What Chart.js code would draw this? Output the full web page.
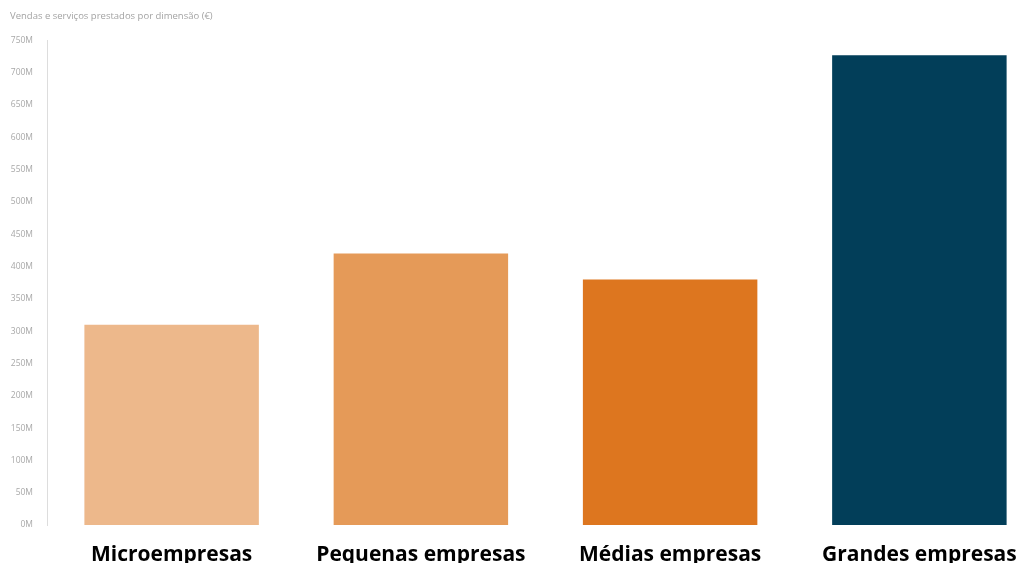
<!DOCTYPE html>
<html>
<head>
<meta charset="utf-8">
<script src="https://cdn.jsdelivr.net/npm/chart.js@4/dist/chart.umd.min.js"></script>
<style>
  html, body { margin: 0; padding: 0; background: #fff; overflow: hidden; }
  #wrap { position: relative; width: 1044px; height: 563px; }
</style>
</head>
<body>
<div id="wrap"><canvas id="c"></canvas></div>
<script>
const chartTitle = 'Vendas e serviços prestados por dimensão (€)';
const categories = ['Microempresas', 'Pequenas empresas', 'Médias empresas', 'Grandes empresas'];
const salesMillions = [310, 420, 380, 727];
const barColors = ['#EDB88B', '#E59A58', '#DD761F', '#023E59'];
const yTickSuffix = 'M';

new Chart(document.getElementById('c'), {
  type: 'bar',
  data: {
    labels: categories,
    datasets: [{
      data: salesMillions,
      backgroundColor: barColors,
      borderWidth: 0,
      categoryPercentage: 1,
      barPercentage: 0.7
    }]
  },
  options: {
    responsive: true,
    maintainAspectRatio: false,
    animation: false,
    layout: { padding: { left: 10, right: 0, top: 0, bottom: 0 } },
    plugins: {
      legend: { display: false },
      tooltip: { enabled: false },
      title: {
        display: true,
        text: chartTitle,
        align: 'start',
        color: '#a3a3a3',
        font: { family: 'Open Sans', size: 9.5, weight: 'normal' },
        padding: { top: 11, bottom: 18 }
      }
    },
    scales: {
      x: {
        grid: { display: false },
        border: { display: false },
        ticks: {
          color: '#000',
          font: { family: 'Open Sans', size: 21, weight: 'bold' },
          padding: 9,
          maxRotation: 0,
          autoSkip: false
        },
        afterFit: s => { s.height = 38; }
      },
      y: {
        min: 0,
        max: 750,
        grid: { display: false },
        border: { display: true, color: '#dddddd', width: 1 },
        ticks: {
          stepSize: 50,
          color: '#a8a8a8',
          font: { family: 'Open Sans', size: 8.5 },
          padding: 6,
          callback: v => v + yTickSuffix
        },
        afterFit: s => { s.width = 37; }
      }
    }
  }
});
</script>
</body>
</html>
